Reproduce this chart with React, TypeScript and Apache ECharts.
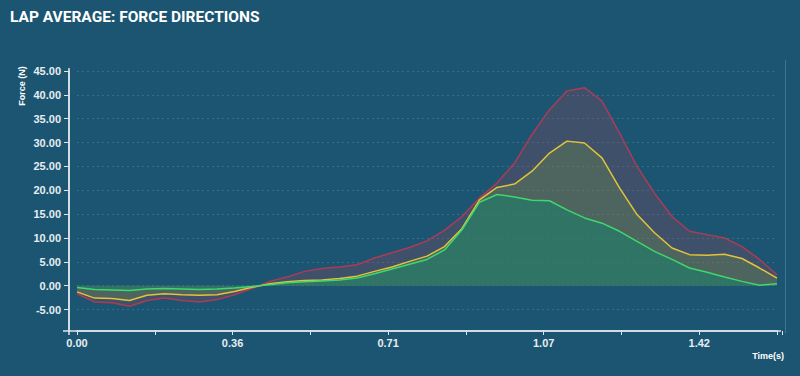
import React, { useEffect, useRef } from "react";
import * as echarts from "echarts";

const TITLE = "LAP AVERAGE: FORCE DIRECTIONS";
const Y_NAME = "Force (N)";
const X_NAME = "Time(s)";

const times = [
  0.0, 0.04, 0.08, 0.12, 0.16, 0.2, 0.24, 0.28, 0.32, 0.36, 0.4,
  0.44, 0.48, 0.52, 0.56, 0.6, 0.64, 0.68, 0.72, 0.76, 0.8,
  0.84, 0.88, 0.92, 0.96, 1.0, 1.04, 1.08, 1.12, 1.16, 1.2,
  1.24, 1.28, 1.32, 1.36, 1.4, 1.44, 1.48, 1.52, 1.56, 1.6,
];

const redValues = [
  -1.7, -3.4, -3.6, -4.3, -3.1, -2.6, -3.1, -3.4, -2.9, -1.9, -0.6,
  0.9, 1.8, 3.0, 3.6, 3.9, 4.4, 5.8, 6.9, 8.0, 9.4,
  11.6, 14.5, 18.4, 21.5, 25.7, 31.7, 36.9, 40.8, 41.5, 38.7,
  32.0, 25.0, 19.4, 14.5, 11.4, 10.7, 10.0, 8.2, 5.5, 2.3,
];

const yellowValues = [
  -1.3, -2.6, -2.7, -3.1, -2.0, -1.7, -1.9, -2.0, -1.9, -1.2, -0.35,
  0.4, 0.8, 1.1, 1.2, 1.5, 2.0, 3.0, 3.9, 5.1, 6.2,
  8.2, 12.0, 18.0, 20.6, 21.3, 24.0, 27.8, 30.3, 29.9, 26.8,
  20.5, 14.9, 11.1, 7.9, 6.5, 6.4, 6.6, 5.7, 3.7, 1.6,
];

const greenValues = [
  -0.4, -0.8, -0.9, -1.0, -0.7, -0.6, -0.7, -0.8, -0.7, -0.5, -0.15,
  0.2, 0.6, 0.8, 1.0, 1.2, 1.6, 2.5, 3.5, 4.5, 5.5,
  7.5, 11.7, 17.5, 19.1, 18.6, 17.9, 17.8, 15.9, 14.2, 13.1,
  11.4, 9.3, 7.2, 5.5, 3.7, 2.8, 1.8, 0.9, 0.1, 0.4,
];

const xTickLabels = ["0.00", "", "0.36", "", "0.71", "", "1.07", "", "1.42", ""];

const BG = "#1c5571";
const AXIS = "#dce6ec";
const LABEL_FONT = '"Liberation Sans", Arial, sans-serif';

export default function App() {
  const ref = useRef<HTMLDivElement>(null);

  useEffect(() => {
    const chart = echarts.init(ref.current as HTMLDivElement, null, { renderer: "svg" });

    const mk = (vals: number[]) => times.map((t, i) => [t, vals[i]]);

    const seriesDef = [
      { name: "Red", values: redValues, line: "#ad3b57", fill: "rgba(162,68,93,0.38)" },
      { name: "Yellow", values: yellowValues, line: "#e2c43a", fill: "rgba(120,160,60,0.36)" },
      { name: "Green", values: greenValues, line: "#3fd86c", fill: "rgba(18,132,110,0.7)" },
    ];

    chart.setOption({
      animation: false,
      backgroundColor: BG,
      grid: { left: 77, right: 23, top: 71, bottom: 45 },
      xAxis: {
        type: "value",
        min: 0,
        max: 1.6,
        interval: 1.6 / 9,
        axisLine: { show: true, onZero: false, lineStyle: { color: AXIS, width: 1.5 } },
        axisTick: { show: true, length: 4, lineStyle: { color: AXIS, width: 1 } },
        splitLine: { show: false },
        axisLabel: {
          color: "#e6eef2",
          fontSize: 11,
          fontWeight: "bold",
          fontFamily: LABEL_FONT,
          margin: 6,
          formatter: (_v: number, idx: number) => xTickLabels[idx] ?? "",
        },
      },
      yAxis: {
        type: "value",
        min: -9.5,
        max: 45,
        splitNumber: 10,
        offset: 8,
        axisLine: { show: true, onZero: false, lineStyle: { color: AXIS, width: 1.5 } },
        axisTick: { show: true, length: 5, lineStyle: { color: AXIS, width: 1 } },
        splitLine: {
          show: true,
          lineStyle: { color: "rgba(170,205,222,0.2)", type: [2, 3], width: 1 },
        },
        axisLabel: {
          color: "#e6eef2",
          fontSize: 11,
          fontWeight: "bold",
          fontFamily: LABEL_FONT,
          margin: 8,
          showMinLabel: false,
          formatter: (v: number) => v.toFixed(2),
        },
      },
      series: seriesDef.map((s) => ({
        name: s.name,
        type: "line",
        data: mk(s.values),
        showSymbol: false,
        symbol: "none",
        smooth: false,
        lineStyle: { color: s.line, width: 1.5 },
        itemStyle: { color: s.line },
        areaStyle: { color: s.fill, origin: 0 },
      })),
      graphic: [
        {
          type: "text",
          x: 10,
          y: 17,
          style: {
            text: TITLE,
            fill: "#ffffff",
            font: "bold 15.5px Roboto, sans-serif",
            verticalAlign: "middle",
          },
        },
        {
          type: "text",
          x: 22,
          y: 86,
          rotation: Math.PI / 2,
          style: {
            text: Y_NAME,
            fill: "#ffffff",
            font: 'bold 9px "Liberation Sans", Arial, sans-serif',
            align: "center",
            verticalAlign: "middle",
          },
        },
        {
          type: "text",
          x: 784,
          y: 356,
          style: {
            text: X_NAME,
            fill: "#ffffff",
            font: 'bold 9px "Liberation Sans", Arial, sans-serif',
            align: "right",
            verticalAlign: "middle",
          },
        },
        {
          type: "line",
          shape: { x1: 63, y1: 331, x2: 781, y2: 331 },
          style: { stroke: AXIS, lineWidth: 1.5 },
        },
        {
          type: "line",
          shape: { x1: 69, y1: 68, x2: 69, y2: 335 },
          style: { stroke: AXIS, lineWidth: 1.5 },
        },
        {
          type: "line",
          shape: { x1: 782.5, y1: 331, x2: 782.5, y2: 335 },
          style: { stroke: AXIS, lineWidth: 1 },
        },
        {
          type: "line",
          shape: { x1: 785.5, y1: 60, x2: 785.5, y2: 333 },
          style: { stroke: "rgba(200,225,235,0.22)", lineWidth: 1 },
        },
      ],
    });

    return () => chart.dispose();
  }, []);

  return (
    <div
      ref={ref}
      style={{ position: "fixed", left: 0, top: 0, width: 800, height: 376 }}
    />
  );
}
